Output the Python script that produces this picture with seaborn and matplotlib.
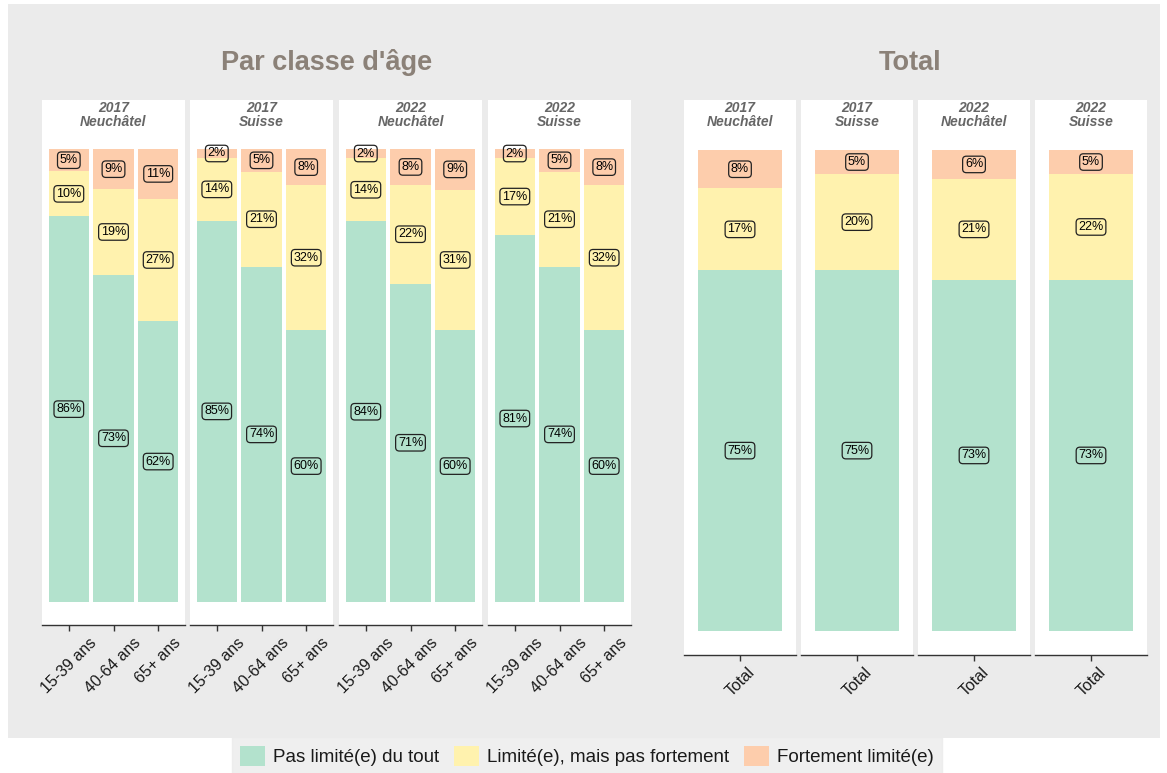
import matplotlib
matplotlib.use("Agg")
import numpy as np
import pandas as pd
import seaborn as sns
import matplotlib.pyplot as plt
from matplotlib.patches import Rectangle, Patch

# ---------------- data ----------------
facets = ["2017\nNeuchâtel", "2017\nSuisse", "2022\nNeuchâtel", "2022\nSuisse"]
age_groups = ["15-39 ans", "40-64 ans", "65+ ans"]
pas_limite_age = [[86, 73, 62], [85, 74, 60], [84, 71, 60], [81, 74, 60]]
limite_age = [[10, 19, 27], [14, 21, 32], [14, 22, 31], [17, 21, 32]]
fortement_age = [[5, 9, 11], [2, 5, 8], [2, 8, 9], [2, 5, 8]]

total_cats = ["Total"]
pas_limite_total = [75, 75, 73, 73]
limite_total = [17, 20, 21, 22]
fortement_total = [8, 5, 6, 5]

series_names = ["Pas limité(e) du tout", "Limité(e), mais pas fortement", "Fortement limité(e)"]
colors = ["#B3E2CD", "#FFF2AE", "#FDCDAC"]

# ---------------- style ----------------
sns.set_theme(style="white")
plt.rcParams["font.family"] = ["Liberation Sans", "DejaVu Sans"]

W, H = 1167, 773
fig = plt.figure(figsize=(W / 100, H / 100), dpi=100)
fig.patch.set_facecolor("white")
fig.add_artist(Rectangle((8 / W, 1 - 738 / H), (1160 - 8) / W, (738 - 4) / H,
                         transform=fig.transFigure, facecolor="#EBEBEB",
                         edgecolor="none", zorder=0))


def px_axes(x0, y0, x1, y1):
    return fig.add_axes([x0 / W, 1 - y1 / H, (x1 - x0) / W, (y1 - y0) / H])


def draw_panel(ax, cats, green, yellow, orange, strip, bar_bottom, bar_top, ax_top, ax_bottom):
    green = np.asarray(green, float)
    yellow = np.asarray(yellow, float)
    orange = np.asarray(orange, float)
    tot = green + yellow + orange
    df = pd.DataFrame({
        "cat": cats,
        "c1": green / tot,
        "c2": (green + yellow) / tot,
        "c3": (green + yellow + orange) / tot,
    })
    for col, c in zip(["c3", "c2", "c1"], colors[::-1]):
        sns.barplot(data=df, x="cat", y=col, order=cats, color=c, width=0.9,
                    saturation=1, errorbar=None, edgecolor="none", ax=ax)
    ax.set_facecolor("white")
    unit = bar_bottom - bar_top
    ymin = -(ax_bottom - bar_bottom) / unit
    ymax = 1 + (bar_top - ax_top) / unit
    ax.set_ylim(ymin, ymax)
    ax.set_xlim(-0.6, len(cats) - 0.4)
    ax.set_xlabel("")
    ax.set_ylabel("")
    ax.set_yticks([])
    for s in ["left", "right", "top"]:
        ax.spines[s].set_visible(False)
    ax.spines["bottom"].set_color("#333333")
    ax.spines["bottom"].set_linewidth(1.0)
    ax.tick_params(axis="x", bottom=True, length=4, width=1, color="#333333",
                   labelsize=11.5, labelcolor="#1A1A1A", pad=3)
    plt.setp(ax.get_xticklabels(), rotation=45, ha="center", va="top")
    # labels
    lows = [np.zeros(len(cats)), df["c1"].values, df["c2"].values]
    highs = [df["c1"].values, df["c2"].values, df["c3"].values]
    vals = [green, yellow, orange]
    for lo, hi, v in zip(lows, highs, vals):
        for i in range(len(cats)):
            ax.text(i, (lo[i] + hi[i]) / 2, f"{int(v[i])}%", ha="center", va="center",
                    fontsize=9, color="black",
                    bbox=dict(boxstyle="round,pad=0.18,rounding_size=0.3", fc="none",
                              ec="#222222", lw=0.9))
    # strip
    ystrip = (bar_bottom - 115) / unit
    ax.text((len(cats) - 1) / 2, ystrip, strip, ha="center", va="center",
            fontsize=10, fontweight="bold", fontstyle="italic", color="#666666",
            linespacing=0.92)


left_x = [42, 190, 339, 488]
for k, x0 in enumerate(left_x):
    ax = px_axes(x0, 100, x0 + 143, 625)
    draw_panel(ax, age_groups, pas_limite_age[k], limite_age[k], fortement_age[k],
               facets[k], 602, 149, 100, 625)

right_x = [684, 801, 918, 1035]
for k, x0 in enumerate(right_x):
    ax = px_axes(x0, 100, x0 + 112, 655)
    draw_panel(ax, total_cats, [pas_limite_total[k]], [limite_total[k]], [fortement_total[k]],
               facets[k], 631, 150, 100, 655)

title_color = "#8B8178"
fig.text(327 / W, 1 - 63 / H, "Par classe d'âge", ha="center", va="center",
         fontsize=19.5, fontweight="bold", color=title_color)
fig.text(910 / W, 1 - 63 / H, "Total", ha="center", va="center",
         fontsize=19.5, fontweight="bold", color=title_color)

handles = [Patch(facecolor=c, edgecolor="none", label=n) for c, n in zip(colors, series_names)]
leg = fig.legend(handles=handles, loc="center", bbox_to_anchor=(587 / W, 1 - 756 / H),
                 ncol=3, fontsize=13.5, frameon=True, fancybox=False,
                 handlelength=1.3, handleheight=1.3, handletextpad=0.45,
                 columnspacing=0.8, borderpad=0.45)
leg.get_frame().set_facecolor("#EBEBEB")
leg.get_frame().set_edgecolor("#EBEBEB")
for t in leg.get_texts():
    t.set_color("#1A1A1A")

fig.savefig("out.png", dpi=100, facecolor="white")
